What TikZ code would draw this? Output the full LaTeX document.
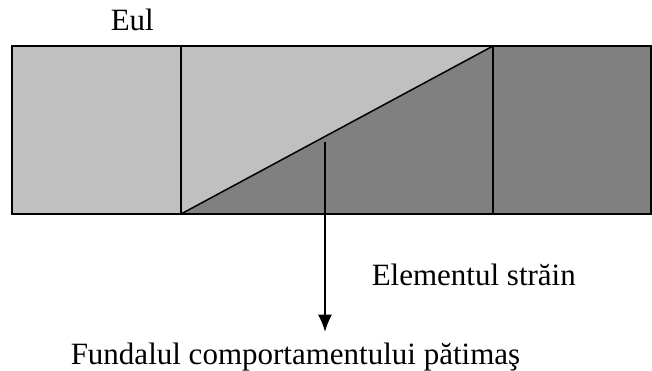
\documentclass[tikz,border=0pt]{standalone}
\usepackage{fontspec}
\setmainfont{Liberation Serif}
\usetikzlibrary{arrows.meta}
\definecolor{lightbox}{HTML}{C0C0C0}
\definecolor{darkbox}{HTML}{808080}

\begin{document}
\begin{tikzpicture}[x=1pt, y=-1pt, >={Latex[length=17pt,width=14pt]}, line width=1.5pt,
    txt/.style={font=\fontsize{31}{37}\selectfont, inner sep=0pt}]
  \useasboundingbox (0,0) rectangle (652,371);
  % Fills of the band.
  \fill[lightbox] (12,46) rectangle (181,214);
  \fill[lightbox] (181,214) -- (181,46) -- (493,46) -- cycle;
  \fill[darkbox] (181,214) -- (493,46) -- (493,214) -- cycle;
  \fill[darkbox] (493,46) rectangle (652,214);
  % Outlines.
  \draw (12,46) rectangle (651,214);
  \draw (181,46) -- (181,214);
  \draw (493,46) -- (493,214);
  \draw (181,214) -- (493,46);
  % Texts.
  \node[txt, anchor=base west] (eul) at (110,31) {Eul};
  \node[txt, anchor=base west] (strain) at (371,285) {Elementul străin};
  \node[txt, anchor=base west] (fundal) at (70,364) {Fundalul comportamentului pătimaş};
  % Arrow down to the background.
  \coordinate (start) at (325,142);
  \draw[->, shorten >=10pt] (start) -- (start |- fundal.north);
\end{tikzpicture}
\end{document}
